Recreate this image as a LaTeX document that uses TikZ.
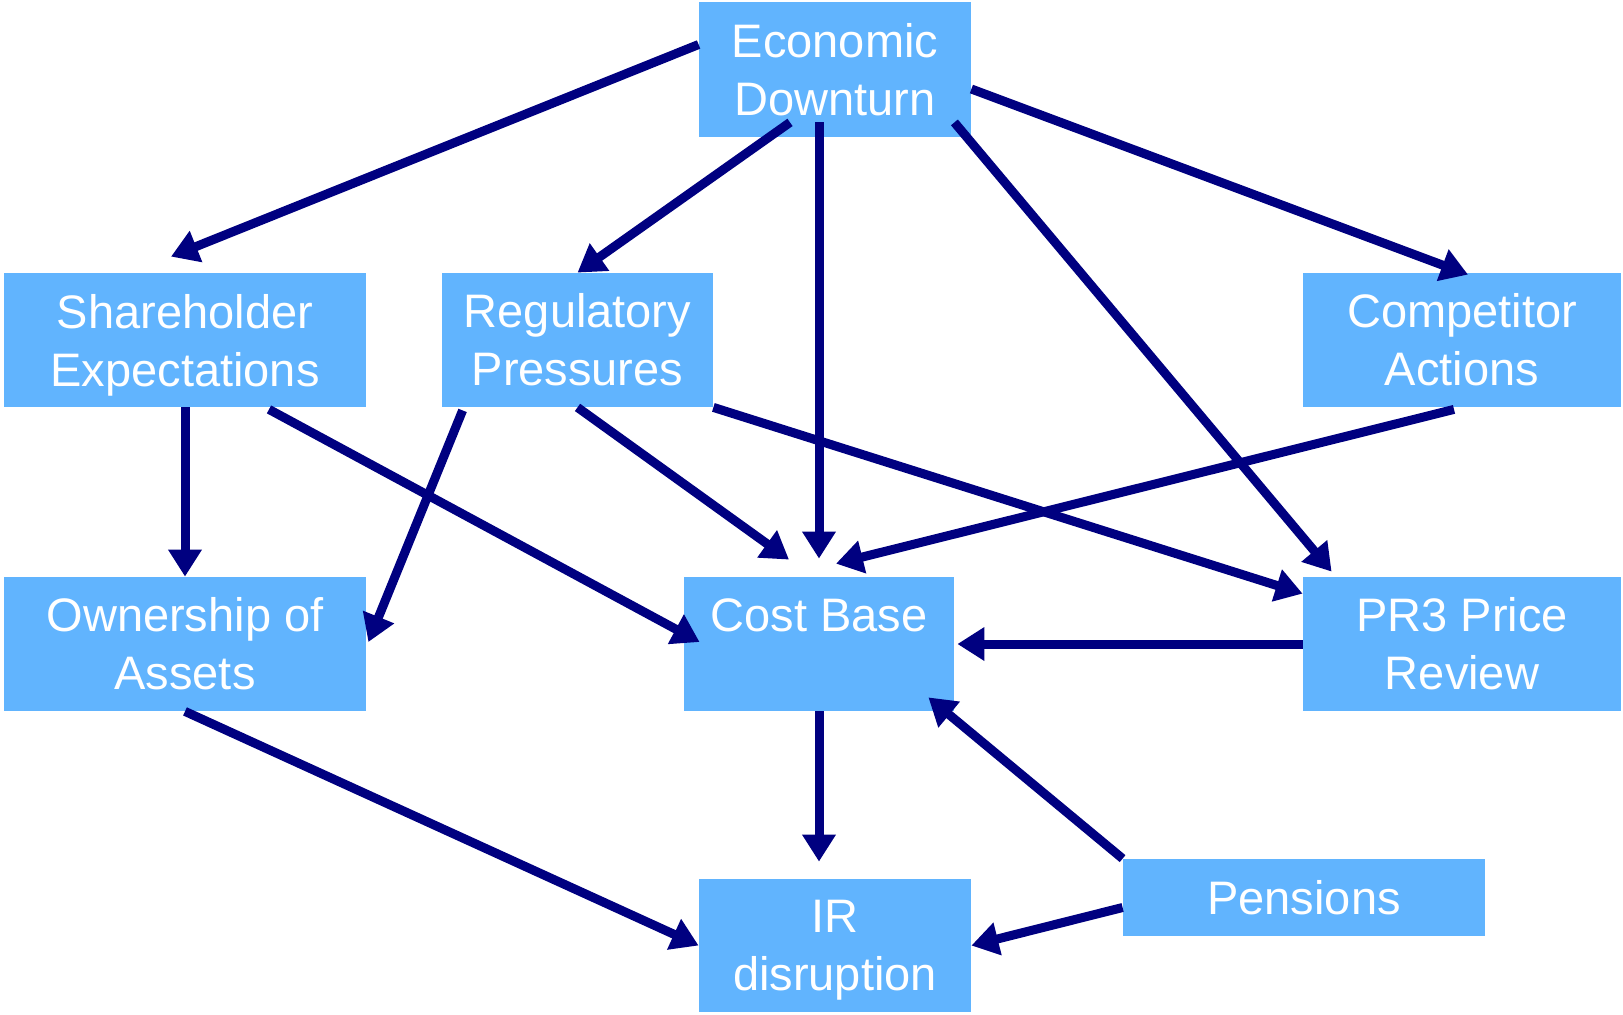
\documentclass[tikz,border=0pt]{standalone}
\usepackage{fontspec}
\setmainfont{Liberation Sans}
\usepackage{tikz}
\usetikzlibrary{arrows.meta,calc,positioning}
\definecolor{boxfill}{RGB}{97,180,254}
\definecolor{linknavy}{RGB}{0,0,128}
\tikzset{
  factor/.style={rectangle,fill=boxfill,text=white,inner sep=0pt,
    minimum width=#1,minimum height=67pt,align=center,
    font=\fontsize{23.5}{29}\selectfont},
  factor/.default=136pt,
  link/.style={-{Triangle[length=13.5pt,width=16pt]},line width=4.5pt,linknavy}
}
\begin{document}
\begin{tikzpicture}[x=0.5pt,y=-0.5pt]
  \useasboundingbox (0,0) rectangle (1623,1014);
  \node[factor=136pt,minimum height=67.5pt] (eco)   at (835,69.5)  {Economic\\Downturn};
  \node[factor=181pt] (share) at (185,340)   {Shareholder\\\smash{Expectations}};
  \node[factor=135.5pt] (reg) at (577.5,340) {Regulatory\\Pressures};
  \node[factor=159pt] (comp)  at (1462,340)  {Competitor\\Actions};
  \node[factor=181pt] (own)   at (185,644)   {Ownership of\\Assets};
  \node[factor=135pt] (cost)  at (819,644)   {Cost Base\\\mbox{}};
  \node[factor=159pt] (pr3)   at (1462,644)  {PR3 Price\\Review};
  \node[factor=181pt,minimum height=38.5pt] (pen) at (1304,897.5) {Pensions};
  \node[factor=136pt,minimum height=66.5pt] (ir)  at (835,945.5) {IR\\\smash{disruption}};
  \draw[link] ([yshift=12.5pt]eco.west) -- ([xshift=-7pt,yshift=8pt]share.north);
  \draw[link] ([xshift=-22.5pt,yshift=7.5pt]eco.south) -- (reg.north);
  \draw[link] ([xshift=-8pt,yshift=7.5pt]eco.south) -- ([yshift=9pt]cost.north);
  \draw[link] ([xshift=-8.5pt,yshift=7.5pt]eco.south east) -- ([xshift=14.5pt,yshift=2.5pt]pr3.north west);
  \draw[link] ([yshift=-9.75pt]eco.east) -- ([xshift=3pt,yshift=-1pt]comp.north);
  \draw[link] (share.south) -- (own.north);
  \draw[link] ([xshift=42pt,yshift=-1pt]share.south) -- ([xshift=8pt,yshift=1pt]cost.west);
  \draw[link] ([xshift=10.5pt,yshift=-1.5pt]reg.south west) -- ([xshift=1pt,yshift=1pt]own.east);
  \draw[link] (reg.south) -- ([xshift=-15pt,yshift=8.5pt]cost.north);
  \draw[link] (reg.south east) -- ([yshift=-8.5pt]pr3.north west);
  \draw[link] ([xshift=-4pt,yshift=-1pt]comp.south) -- ([xshift=8.5pt,yshift=6.5pt]cost.north);
  \draw[link] (pr3.west) -- ([xshift=1.5pt]cost.east);
  \draw[link] (cost.south) -- ([xshift=-8pt,yshift=8.5pt]ir.north);
  \draw[link] (own.south) -- (ir.west);
  \draw[link] (pen.north west) -- ([xshift=-13pt,yshift=7pt]cost.south east);
  \draw[link] ([yshift=-5pt]pen.west) -- (ir.east);
\end{tikzpicture}
\end{document}
